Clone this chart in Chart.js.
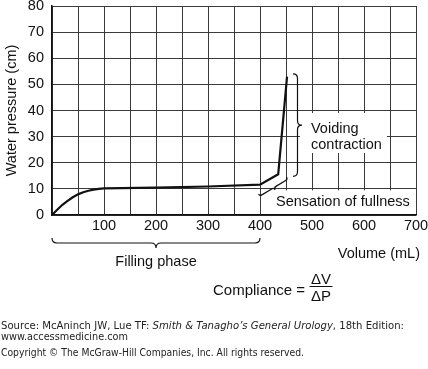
<!DOCTYPE html>
<html>
<head>
<meta charset="utf-8">
<script src="https://cdn.jsdelivr.net/npm/chart.js@4"></script>
<style>
html,body{margin:0;padding:0;background:#fff;}
canvas{display:block;}
</style>
</head>
<body>
<canvas id="c" width="428" height="369" style="width:428px;height:369px"></canvas>
<script>
// Data
const volumes   = [0, 10, 20, 30, 40, 50, 60, 70, 80, 90, 100, 200, 300, 400, 435, 452];
const pressures = [0, 2.0, 3.9, 5.4, 6.8, 7.9, 8.7, 9.3, 9.7, 10.0, 10.2, 10.5, 10.9, 11.6, 15.6, 53];
const xTickLabels = [100, 200, 300, 400, 500, 600, 700];
const yTickLabels = [0, 10, 20, 30, 40, 50, 60, 70, 80];

const FONT = '"Liberation Sans", Arial, sans-serif';
const SRCFONT = '"DejaVu Sans", Verdana, sans-serif';
const points = volumes.map((v, i) => ({x: v, y: pressures[i]}));

function hBrace(ctx, x1, x2, y, h) {
  const xm = (x1 + x2) / 2;
  ctx.beginPath();
  ctx.moveTo(x1, y);
  ctx.quadraticCurveTo(x1, y + h, x1 + h, y + h);
  ctx.lineTo(xm - h, y + h);
  ctx.quadraticCurveTo(xm, y + h, xm, y + 2 * h);
  ctx.quadraticCurveTo(xm, y + h, xm + h, y + h);
  ctx.lineTo(x2 - h, y + h);
  ctx.quadraticCurveTo(x2, y + h, x2, y);
  ctx.stroke();
}
function vBrace(ctx, x, y1, y2, w) {
  const ym = (y1 + y2) / 2;
  ctx.beginPath();
  ctx.moveTo(x, y1);
  ctx.quadraticCurveTo(x + w, y1, x + w, y1 + w);
  ctx.lineTo(x + w, ym - w);
  ctx.quadraticCurveTo(x + w, ym, x + 2 * w, ym);
  ctx.quadraticCurveTo(x + w, ym, x + w, ym + w);
  ctx.lineTo(x + w, y2 - w);
  ctx.quadraticCurveTo(x + w, y2, x, y2);
  ctx.stroke();
}
function fitText(ctx, parts, x, y, targetWidth) {
  let total = 0;
  parts.forEach(([t, f]) => { ctx.font = f; total += ctx.measureText(t).width; });
  const k = targetWidth / total;
  ctx.save();
  ctx.translate(x, y);
  ctx.scale(k, 1);
  let cx = 0;
  parts.forEach(([t, f]) => { ctx.font = f; ctx.fillText(t, cx, 0); cx += ctx.measureText(t).width; });
  ctx.restore();
}
function noPad(s) {
  s.paddingTop = 0; s.paddingBottom = 0; s.paddingLeft = 0; s.paddingRight = 0;
}

const annotations = {
  id: 'annotations',
  beforeDatasetsDraw(chart) {
    const ctx = chart.ctx, xs = chart.scales.x, ys = chart.scales.y;
    ctx.save();
    ctx.fillStyle = '#fff';
    ctx.fillRect(300, 113, 87, 40);
    ctx.fillRect(xs.getPixelForValue(400) + 1, ys.getPixelForValue(10) + 1.5,
                 xs.right - xs.getPixelForValue(400) - 2, ys.getPixelForValue(0) - ys.getPixelForValue(10) - 2.5);
    ctx.restore();
  },
  afterDraw(chart) {
    const ctx = chart.ctx, xs = chart.scales.x, ys = chart.scales.y;
    ctx.save();
    ctx.strokeStyle = '#111';
    ctx.lineWidth = 1.2;
    vBrace(ctx, 293, ys.getPixelForValue(54), ys.getPixelForValue(14.8), 4.5);
    hBrace(ctx, xs.getPixelForValue(0), xs.getPixelForValue(400), 238, 5);
    const p1x = xs.getPixelForValue(398), p1y = ys.getPixelForValue(7.7);
    const p2x = xs.getPixelForValue(452), p2y = ys.getPixelForValue(14.2);
    const ang = Math.atan2(p2y - p1y, p2x - p1x);
    const L = Math.hypot(p2x - p1x, p2y - p1y);
    ctx.save();
    ctx.translate(p1x, p1y);
    ctx.rotate(ang);
    hBrace(ctx, 0, L, -1, 2.5);
    ctx.restore();

    ctx.fillStyle = '#111';
    ctx.font = '14.5px ' + FONT;
    ctx.textBaseline = 'alphabetic';
    ctx.textAlign = 'left';
    ctx.fillText('Voiding', 311, 133);
    ctx.fillText('contraction', 311, 148.5);
    ctx.fillText('Sensation of fullness', 276, 205.5);
    ctx.textAlign = 'center';
    ctx.fillText('Filling phase', 156, 266);
    ctx.textAlign = 'right';
    ctx.fillText('Volume (mL)', 420, 258);
    ctx.textAlign = 'left';
    ctx.font = '15px ' + FONT;
    ctx.fillText('Compliance =', 213, 294.5);
    ctx.textAlign = 'center';
    ctx.fillText('\u0394V', 321, 283.5);
    ctx.fillText('\u0394P', 321, 300.5);
    ctx.beginPath();
    ctx.lineWidth = 1;
    ctx.moveTo(309.5, 286.5);
    ctx.lineTo(332.5, 286.5);
    ctx.stroke();

    ctx.fillStyle = '#222';
    ctx.textAlign = 'left';
    const fs = 9.8;
    const reg = fs + 'px ' + SRCFONT, ita = 'italic ' + fs + 'px ' + SRCFONT;
    fitText(ctx, [['Source: McAninch JW, Lue TF: ', reg], ['Smith & Tanagho\u2019s General Urology', ita], [', 18th Edition:', reg]], 1, 328.5, 403);
    fitText(ctx, [['www.accessmedicine.com', reg]], 1, 339.5, 127);
    fitText(ctx, [['Copyright \u00A9 The McGraw-Hill Companies, Inc. All rights reserved.', reg]], 1, 356, 303);
    ctx.restore();
  }
};

new Chart(document.getElementById('c'), {
  type: 'scatter',
  data: {
    datasets: [{
      data: points,
      showLine: true,
      borderColor: '#111',
      borderWidth: 2.2,
      pointRadius: 0,
      tension: 0,
      fill: false,
      clip: false
    }]
  },
  options: {
    responsive: false,
    animation: false,
    devicePixelRatio: 1,
    layout: {padding: {top: 6, right: 12, left: 0, bottom: 0}},
    plugins: {legend: {display: false}, tooltip: {enabled: false}},
    scales: {
      x: {
        type: 'linear', min: 0, max: 700,
        afterFit: s => { s.height = 154; noPad(s); },
        afterBuildTicks: s => {
          s.ticks = [];
          for (let v = 0; v <= 700; v += 50) s.ticks.push({value: v});
        },
        ticks: {
          autoSkip: false, maxRotation: 0,
          padding: 2.5,
          color: '#111',
          font: {family: FONT, size: 14.5},
          callback: v => xTickLabels.includes(v) ? String(v) : ''
        },
        grid: {color: '#3a3a3a', lineWidth: 1, drawTicks: false},
        border: {display: true, color: '#111', width: 1.5}
      },
      y: {
        type: 'linear', min: 0, max: 80,
        afterFit: s => { s.width = 52; noPad(s); },
        ticks: {
          stepSize: 10, padding: 8, color: '#111',
          font: {family: FONT, size: 14.5},
          callback: v => yTickLabels.includes(v) ? String(v) : ''
        },
        grid: {color: '#3a3a3a', lineWidth: 1, drawTicks: false},
        border: {display: true, color: '#111', width: 1.5},
        title: {
          display: true, text: 'Water pressure (cm)', color: '#111',
          font: {family: FONT, size: 14.5},
          padding: {top: 3, bottom: 0}
        }
      }
    }
  },
  plugins: [annotations]
});
</script>
</body>
</html>
